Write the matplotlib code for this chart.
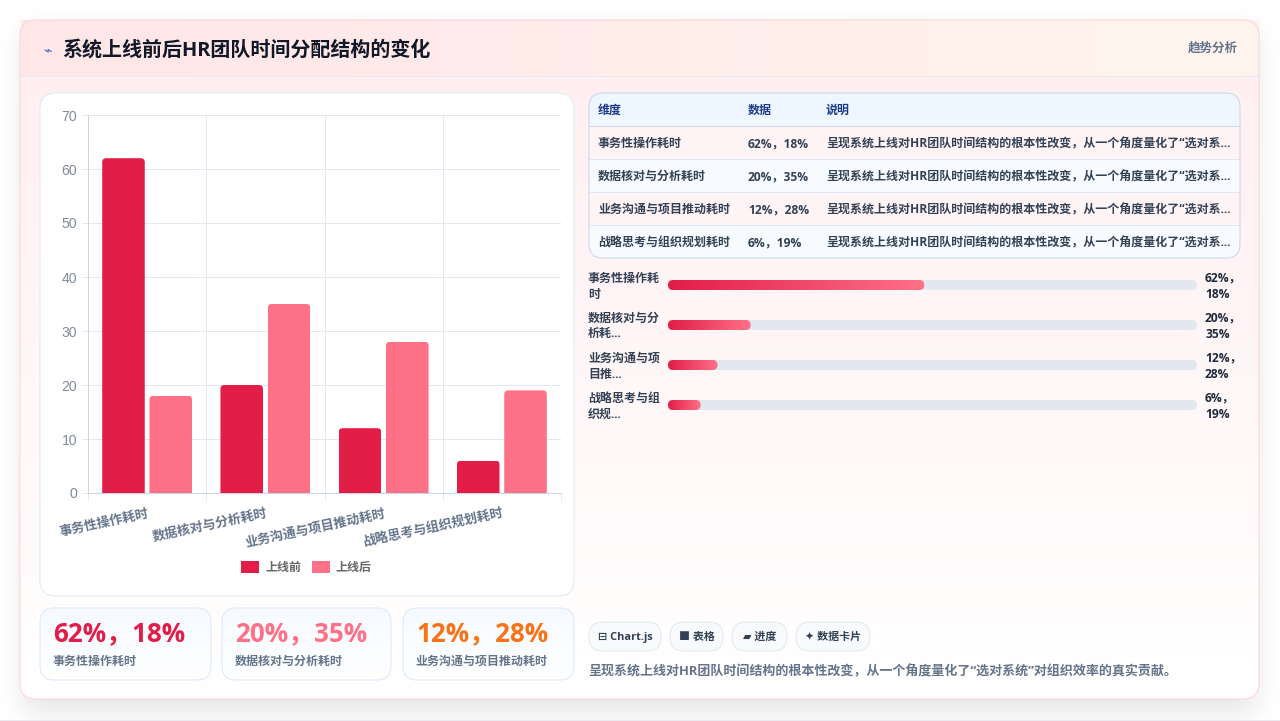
import numpy as np
import matplotlib
matplotlib.use('Agg')
import matplotlib.pyplot as plt
from matplotlib.patches import FancyBboxPatch, Rectangle

FONT = ['Open Sans', 'Noto Sans CJK SC', 'DejaVu Sans']
plt.rcParams['font.family'] = FONT
plt.rcParams['font.weight'] = 'bold'

W, H = 1280, 721

categories = ['事务性操作耗时', '数据核对与分析耗时', '业务沟通与项目推动耗时', '战略思考与组织规划耗时']
before = [62, 20, 12, 6]
after = [18, 35, 28, 19]
series_names = ['上线前', '上线后']
y_ticks = [0, 10, 20, 30, 40, 50, 60, 70]

title = '系统上线前后HR团队时间分配结构的变化'
badge = '趋势分析'
table_head = ['维度', '数据', '说明']
row_note = '呈现系统上线对HR团队时间结构的根本性改变，从一个角度量化了“选对系...'
progress_labels = [['事务性操作耗', '时'], ['数据核对与分', '析耗...'], ['业务沟通与项', '目推...'], ['战略思考与组', '织规...']]
chips = ['⊟ Chart.js', '■ 表格', '▰ 进度', '✦ 数据卡片']
caption = '呈现系统上线对HR团队时间结构的根本性改变，从一个角度量化了“选对系统”对组织效率的真实贡献。'

RED = '#e11d48'
PINK = '#ff7186'
ORANGE = '#f97316'
LINE = 0.72


def pt(px):
    return px * 0.72


def value_text(i):
    return f'{before[i]}%，{after[i]}%'


def rounded(x0, y0, x1, y1, r, **kw):
    return FancyBboxPatch((x0, y0), x1 - x0, y1 - y0, boxstyle=f'round,pad=0,rounding_size={r}', **kw)


def gradient(ax, box, c0, c1, vertical=True, clip=None, zorder=1):
    # two colour ramp stretched over box, optionally clipped to a patch
    a, b = np.array(matplotlib.colors.to_rgb(c0)), np.array(matplotlib.colors.to_rgb(c1))
    t = np.linspace(0, 1, 256)
    t = t[:, None] if vertical else t[None, :]
    img = a + (b - a) * t[..., None]
    x0, y0, x1, y1 = box
    im = ax.imshow(img, extent=[x0, x1, y1, y0], aspect='auto', zorder=zorder, interpolation='bilinear')
    if clip is not None:
        im.set_clip_path(clip)
    return im


def blur(a, sigma):
    n = int(sigma * 3)
    k = np.exp(-0.5 * (np.arange(-n, n + 1) / sigma) ** 2)
    k /= k.sum()
    a = np.apply_along_axis(lambda r: np.convolve(r, k, mode='same'), 0, a)
    return np.apply_along_axis(lambda r: np.convolve(r, k, mode='same'), 1, a)


fig = plt.figure(figsize=(W / 100, H / 100), dpi=100, facecolor='white')
page = fig.add_axes([0, 0, 1, 1], zorder=0)
page.axis('off')

# soft shadow under the card
mask = np.zeros((H + 120, W + 120))
mask[20 + 60 + 12:699 + 60 + 12, 24 + 60:1255 + 60] = 1
shadow = blur(mask, 14)[60:-60, 60:-60] * 0.12
rgba = np.zeros((H, W, 4))
rgba[..., :3] = 0.06
rgba[..., 3] = shadow
page.imshow(rgba, extent=[0, W, H, 0], aspect='auto', zorder=0)
page.set_xlim(0, W)
page.set_ylim(H, 0)
page.plot([0, W], [719.5, 719.5], color='#ececf0', lw=LINE, zorder=0.5)

# card body and header
card_clip = rounded(20, 20, 1259, 699, 16, transform=page.transData, fc='none', ec='none')
page.add_patch(card_clip)
gradient(page, (20, 20, 1259, 699), '#ffeef0', '#ffffff', clip=card_clip)
gradient(page, (20.5, 20.5, 1259, 76), '#ffe6e7', '#fff5ee', vertical=False, zorder=1.1)
page.plot([20, 1259], [76, 76], color='#e8e6f0', lw=LINE, zorder=1.2)
page.add_patch(rounded(20, 20, 1259, 699, 16, fc='none', ec='#fad4d8', lw=LINE, zorder=1.3))

page.text(47, 51, '⌁', family=['DejaVu Sans'], fontsize=pt(14), color='#4f62dc', ha='center', va='center', zorder=3)
page.text(62, 51, title, fontsize=pt(20), color='#111827', va='center', zorder=3)
page.text(1238, 48.5, badge, fontsize=pt(12.5), color='#64748b', ha='right', va='center', zorder=3)

# chart panel
page.add_patch(rounded(40, 93, 574, 596, 16, fc='white', ec='#e2e8f0', lw=LINE, zorder=2))

chart = fig.add_axes([88 / W, 1 - 493 / H, (561 - 88) / W, (493 - 115) / H], zorder=3)
chart.patch.set_alpha(0)
xs = np.arange(len(categories))
bars_a = chart.bar(xs - 0.2, before, 0.36, color=RED, zorder=3, label=series_names[0])
bars_b = chart.bar(xs + 0.2, after, 0.36, color=PINK, zorder=3, label=series_names[1])
chart.set_xlim(-0.5, 3.5)
chart.set_ylim(0, 70)
# round the top corners of each bar
x_px = (561 - 88) / 4
y_px = (493 - 115) / 70
for rect in list(bars_a) + list(bars_b):
    clip = FancyBboxPatch((rect.get_x(), -5), rect.get_width(), rect.get_height() + 5,
                          boxstyle=f'round,pad=0,rounding_size={4 / x_px}',
                          mutation_aspect=x_px / y_px, transform=chart.transData)
    rect.set_clip_path(clip)
chart.set_yticks(y_ticks)
chart.set_xticks(xs)
chart.set_xticklabels(categories, rotation=12, ha='right', va='top', rotation_mode='anchor',
                      fontsize=pt(13), color='#64748b')
chart.set_xticks(np.arange(-0.5, 4), minor=True)
chart.tick_params(axis='x', which='major', length=0, pad=10)
chart.tick_params(axis='x', which='minor', length=5, color='#e2e8f0', width=LINE)
chart.tick_params(axis='y', length=4, color='#e2e8f0', width=LINE, pad=4)
for lab in chart.get_yticklabels():
    lab.set(family=['Liberation Sans'], fontsize=pt(14), color='#808a9a', weight='normal')
chart.grid(True, axis='y', color='#e2e8f0', lw=LINE, zorder=0)
chart.grid(True, axis='x', which='minor', color='#e2e8f0', lw=LINE, zorder=0)
chart.grid(False, axis='x', which='major')
chart.set_axisbelow(True)
for name, sp in chart.spines.items():
    sp.set_visible(name in ('left', 'bottom'))
    sp.set_color('#cbd5e1')
    sp.set_linewidth(LINE)
chart.legend(loc='center', bbox_to_anchor=(306.5, 567.5), bbox_transform=page.transData, ncol=2, frameon=False,
             fontsize=pt(12), labelcolor='#666666', handlelength=1.5, handleheight=1.2,
             handletextpad=0.5, columnspacing=0.9)

# KPI cards
kpi_boxes = [(40, 211), (222, 391), (403, 574)]
kpi_colors = [RED, PINK, ORANGE]
for i, (x0, x1) in enumerate(kpi_boxes):
    clip = rounded(x0, 608, x1, 680, 14, fc='none', ec='none', transform=page.transData)
    page.add_patch(clip)
    gradient(page, (x0, 608, x1, 680), '#f6faff', '#ffffff', clip=clip, zorder=2)
    page.add_patch(rounded(x0, 608, x1, 680, 14, fc='none', ec='#dbe8f6', lw=LINE, zorder=2.1))
    page.text(x0 + 13, 634, value_text(i), fontsize=pt(26), color=kpi_colors[i], va='center', zorder=3)
    page.text(x0 + 12.5, 661, categories[i], fontsize=pt(12), color='#64748b', va='center', zorder=3)

# table
tx0, tx1, ty0, ty1 = 589, 1240, 93, 258
head_y = 126
row_h = (ty1 - head_y) / 4
table_clip = rounded(tx0, ty0, tx1, ty1, 14, fc='none', ec='none', transform=page.transData)
page.add_patch(table_clip)
header_bg = page.add_patch(Rectangle((tx0, ty0), tx1 - tx0, head_y - ty0, fc='#eef6ff', ec='none', zorder=2))
header_bg.set_clip_path(table_clip)
col_x = [598, 748, 826]
for x, s in zip(col_x, table_head):
    page.text(x, 110, s, fontsize=pt(12), color='#1e3a8a', va='center', zorder=3)
page.plot([tx0, tx1], [head_y, head_y], color='#cbd5e1', lw=LINE, zorder=2.2)
for i, cat in enumerate(categories):
    y = head_y + i * row_h
    bg = page.add_patch(Rectangle((tx0, y), tx1 - tx0, row_h, fc='#fff4f5' if i % 2 == 0 else '#f7fbff', ec='none', zorder=2))
    bg.set_clip_path(table_clip)
    if i:
        page.plot([tx0, tx1], [y, y], color='#e2e8f0', lw=LINE, zorder=2.2)
    yc = y + row_h / 2 + 1
    page.text(col_x[0], yc, cat, fontsize=pt(12), color='#334155', va='center', zorder=3)
    page.text(col_x[1], yc, value_text(i), fontsize=pt(12), color='#334155', va='center', zorder=3)
    page.text(col_x[2], yc, row_note, fontsize=pt(12), color='#334155', va='center', zorder=3)
page.add_patch(rounded(tx0, ty0, tx1, ty1, 14, fc='none', ec='#cdd5e5', lw=LINE, zorder=2.3))

# progress bars: track spans 0-128 with a minimum visible fill
prog = fig.add_axes([668 / W, 1 - 425 / H, (1197 - 668) / W, (425 - 265) / H], zorder=3)
prog.axis('off')
prog.set_xlim(0, 128)
prog.set_ylim(425, 265)
sx = (1197 - 668) / 128
for i, v in enumerate(before):
    yc = 285 + 40 * i
    prog.add_patch(FancyBboxPatch((0, yc - 5), 128, 10, boxstyle=f'round,pad=0,rounding_size={5 / sx}',
                                  mutation_aspect=sx, fc='#e2e8f0', ec='none', zorder=1))
    fill = max(v, 7.9)
    clip = FancyBboxPatch((0, yc - 5), fill, 10, boxstyle=f'round,pad=0,rounding_size={5 / sx}',
                          mutation_aspect=sx, fc='none', ec='none', transform=prog.transData)
    prog.add_patch(clip)
    gradient(prog, (0, yc - 5, fill, yc + 5), RED, PINK, vertical=False, clip=clip, zorder=2)
    page.text(588, yc - 7, progress_labels[i][0], fontsize=pt(12), color='#334155', va='center', zorder=3)
    page.text(588, yc + 9, progress_labels[i][1], fontsize=pt(12), color='#334155', va='center', zorder=3)
    page.text(1205, yc - 7, f'{before[i]}%，', fontsize=pt(12), color='#1e293b', va='center', zorder=3)
    page.text(1205, yc + 9, f'{after[i]}%', fontsize=pt(12), color='#1e293b', va='center', zorder=3)
prog.set_xlim(0, 128)
prog.set_ylim(425, 265)

# feature chips and footer line
chip_boxes = [(589, 661), (670, 723), (732, 787), (796, 870)]
for (x0, x1), s in zip(chip_boxes, chips):
    page.add_patch(rounded(x0, 622, x1, 651, 14, fc='#f8fafc', ec='#e2e8f0', lw=LINE, zorder=2))
    page.text((x0 + x1) / 2, 637.5, s, fontsize=pt(11), color='#334155', ha='center', va='center', zorder=3)
page.text(588, 671.5, caption, fontsize=pt(13), color='#64748b', va='center', zorder=3)

page.set_xlim(0, W)
page.set_ylim(H, 0)
fig.savefig('out.png', dpi=100)
